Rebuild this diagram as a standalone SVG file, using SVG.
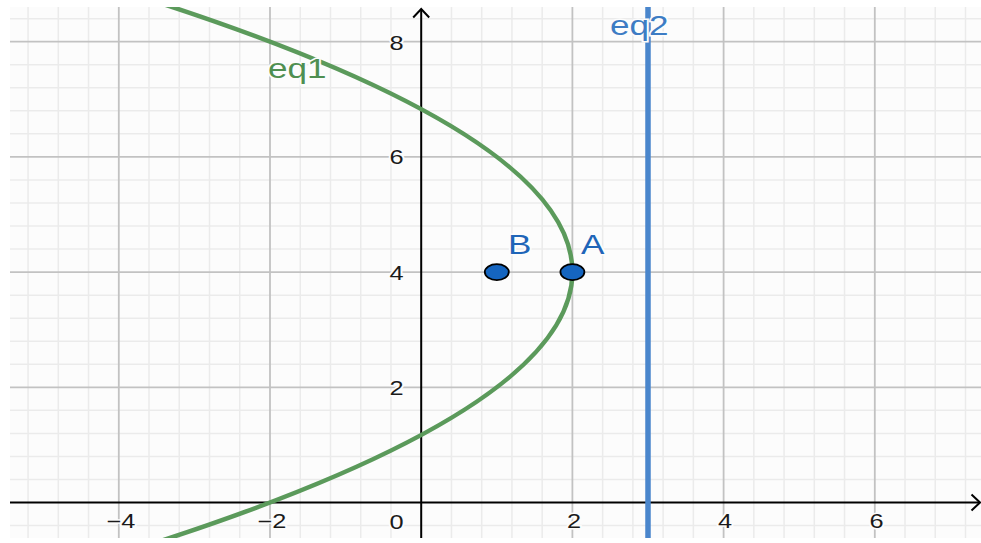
<svg xmlns="http://www.w3.org/2000/svg" width="981" height="543" viewBox="0 0 981 543">
  <defs>
    <clipPath id="plot"><rect x="10" y="7" width="971" height="531"/></clipPath>
    <style>
      .minor { stroke: #ebebeb; stroke-width: 1.5; fill: none; }
      .major { stroke: #c2c2c2; stroke-width: 1.8; fill: none; }
      .axis { stroke: #000; stroke-width: 2; fill: none; }
      .tick { font-family: "Liberation Sans", Arial, sans-serif; font-size: 19.5px; fill: #1a1a1a; stroke: #fcfcfc; stroke-width: 3; paint-order: stroke; }
      .lbl { font-family: "Liberation Sans", Arial, sans-serif; font-size: 27px; stroke: #fcfcfc; stroke-width: 3; paint-order: stroke; }
      .pt { fill: #1565c0; stroke: #000; stroke-width: 1.8; }
    </style>
  </defs>
  <rect x="0" y="0" width="981" height="543" fill="#ffffff"/>
  <rect x="10" y="7" width="971" height="531" fill="#fcfcfc"/>
  <g id="grid" clip-path="url(#plot)">
    <path class="minor" d="M28.08,7V538M58.32,7V538M88.56,7V538M149.04,7V538M179.28,7V538M209.52,7V538M239.76,7V538M300.24,7V538M330.48,7V538M360.72,7V538M390.96,7V538M451.44,7V538M481.68,7V538M511.92,7V538M542.16,7V538M602.64,7V538M632.88,7V538M663.12,7V538M693.36,7V538M753.84,7V538M784.08,7V538M814.32,7V538M844.56,7V538M905.04,7V538M935.28,7V538M965.52,7V538
    M10,525.54H981M10,479.46H981M10,456.42H981M10,433.38H981M10,410.34H981M10,364.26H981M10,341.22H981M10,318.18H981M10,295.14H981M10,249.06H981M10,226.02H981M10,202.98H981M10,179.94H981M10,133.86H981M10,110.82H981M10,87.78H981M10,64.74H981M10,18.66H981"/>
    <path class="major" d="M118.8,7V538M270,7V538M572.4,7V538M723.6,7V538M874.8,7V538M10,387.3H981M10,272.1H981M10,156.9H981M10,41.7H981"/>
  </g>
  <g id="axes">
    <path class="axis" d="M10,502.5H980M421.2,538V9"/>
    <path class="axis" d="M971.5,494.5L980,502.5L971.5,510.5M413.2,17.5L421.2,9L429.2,17.5"/>
    <g id="tick-labels" class="tick">
      <text transform="translate(403.5,49.8) scale(1.3,1)" text-anchor="end">8</text>
      <text transform="translate(403.5,164) scale(1.3,1)" text-anchor="end">6</text>
      <text transform="translate(403.5,279.5) scale(1.3,1)" text-anchor="end">4</text>
      <text transform="translate(403.5,395) scale(1.3,1)" text-anchor="end">2</text>
      <text transform="translate(403.5,529) scale(1.3,1)" text-anchor="end">0</text>
      <text transform="translate(121,528) scale(1.3,1)" text-anchor="middle">−4</text>
      <text transform="translate(272,528) scale(1.3,1)" text-anchor="middle">−2</text>
      <text transform="translate(574,528) scale(1.3,1)" text-anchor="middle">2</text>
      <text transform="translate(725,528) scale(1.3,1)" text-anchor="middle">4</text>
      <text transform="translate(876.5,528) scale(1.3,1)" text-anchor="middle">6</text>
    </g>
  </g>
  <g id="eq2">
    <path d="M648,7V538" stroke="#4a86cc" stroke-width="5.5" fill="none" clip-path="url(#plot)"/>
    <text class="lbl" transform="translate(610,35) scale(1.3,1)" fill="#3d7cc4">eq2</text>
  </g>
  <g id="eq1">
    <path d="M136.9,548.6Q1007.9,272.1 136.9,-4.4" stroke="#5b9a5b" stroke-width="4.5" fill="none" clip-path="url(#plot)"/>
    <text class="lbl" transform="translate(268,77.5) scale(1.3,1)" fill="#4f8f51">eq1</text>
  </g>
  <g id="B">
    <ellipse class="pt" cx="496.8" cy="272.1" rx="12" ry="8"/>
    <text class="lbl" transform="translate(508,253.5) scale(1.3,1)" fill="#1f65b8" stroke="none">B</text>
  </g>
  <g id="A">
    <ellipse class="pt" cx="572.4" cy="272.1" rx="12" ry="8"/>
    <text class="lbl" transform="translate(581,253.5) scale(1.3,1)" fill="#1f65b8" stroke="none">A</text>
  </g>
</svg>
